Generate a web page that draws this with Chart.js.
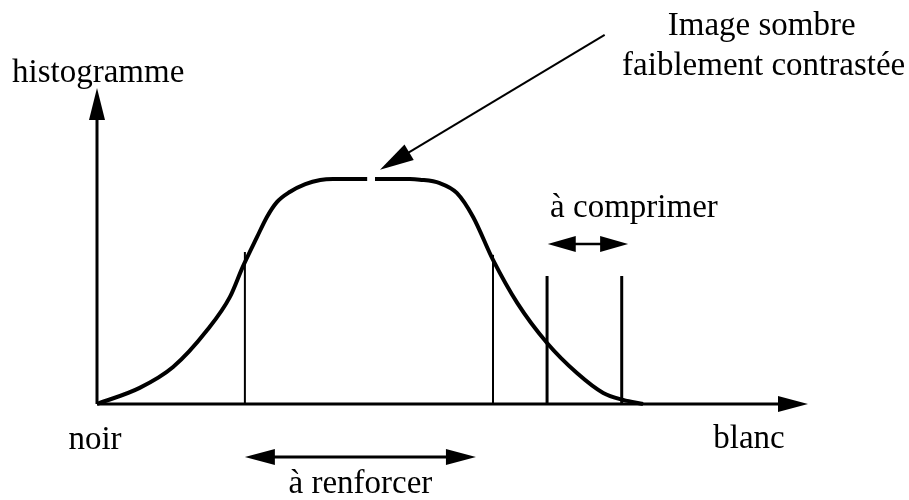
<!DOCTYPE html>
<html>
<head>
<meta charset="utf-8">
<script src="https://cdn.jsdelivr.net/npm/chart.js@4/dist/chart.umd.min.js"></script>
<style>
  html, body { margin: 0; padding: 0; background: #fff; }
  #wrap { width: 909px; height: 500px; position: relative; }
</style>
</head>
<body>
<div id="wrap"><canvas id="chart"></canvas></div>
<script>
// grey level (0 = noir, 100 = axis end) vs histogram height (0..100)
const curveX = [0, 6.0, 10.7, 15.5, 18.7, 20.5, 22.5, 23.9, 25.3, 27.1, 29.3, 31.4, 33.2, 38.0, 38.5, 39.1, 44.0, 45.4, 48.2, 50.6, 52.9, 55.7, 59.1, 63.3, 67.5, 71.2, 74.0, 76.8];
const curveY = [0, 5.1, 11.7, 23.4, 33.9, 43.4, 52.8, 59.2, 63.9, 67.1, 69.6, 70.9, 71.2, 71.2, null, 71.2, 71.2, 71.0, 69.9, 66.8, 59.2, 45.6, 32.0, 19.3, 9.8, 3.5, 1.3, 0];

// vertical threshold marks
const markX = [20.8, 55.7, 63.3, 73.8];
const markTop = [48.1, 47.2, 40.5, 40.5];

// axis labels
const axisLabels = ["histogramme", "noir", "blanc"];
// range arrows: [x from, x to, y]
const reinforceRange = [20.8, 53.3, -16.8];
const compressRange = [63.4, 74.7, 50.6];
// pointer arrow: [x from, y from, x to, y to]
const pointer = [71.4, 116.8, 39.8, 74.1];
const notes = ["Image sombre", "faiblement contrastée", "à comprimer", "à renforcer"];

const curve = curveX.map((x, i) => ({ x: x, y: curveY[i] }));
const markSets = markX.map((x, i) => ({
  data: [{ x: x, y: 0 }, { x: x, y: markTop[i] }],
  borderColor: "#000",
  borderWidth: i < 2 ? 2 : 3,
  pointRadius: 0,
  clip: false
}));

function arrowHead(ctx, x1, y1, x2, y2, len, half) {
  const a = Math.atan2(y2 - y1, x2 - x1);
  ctx.beginPath();
  ctx.moveTo(x2, y2);
  ctx.lineTo(x2 - len * Math.cos(a) + half * Math.sin(a), y2 - len * Math.sin(a) - half * Math.cos(a));
  ctx.lineTo(x2 - len * Math.cos(a) - half * Math.sin(a), y2 - len * Math.sin(a) + half * Math.cos(a));
  ctx.closePath();
  ctx.fill();
}

function line(ctx, x1, y1, x2, y2, w) {
  ctx.lineWidth = w;
  ctx.beginPath();
  ctx.moveTo(x1, y1);
  ctx.lineTo(x2, y2);
  ctx.stroke();
}

const sketchPlugin = {
  id: "sketch",
  afterDatasetsDraw(chart) {
    const ctx = chart.ctx;
    const sx = chart.scales.x, sy = chart.scales.y;
    const px = v => sx.getPixelForValue(v);
    const py = v => sy.getPixelForValue(v);
    ctx.save();
    ctx.strokeStyle = "#000";
    ctx.fillStyle = "#000";

    // axes
    const x0 = px(0), y0 = py(0);
    line(ctx, x0, y0, px(100) - 20, y0, 3);
    arrowHead(ctx, x0, y0, px(100), y0, 30, 8);
    line(ctx, x0, y0, x0, py(100) + 20, 3);
    arrowHead(ctx, x0, y0, x0, py(100), 32, 8);

    // range arrows
    const rr = reinforceRange;
    line(ctx, px(rr[0]) + 20, py(rr[2]), px(rr[1]) - 20, py(rr[2]), 3);
    arrowHead(ctx, px(rr[1]), py(rr[2]), px(rr[0]), py(rr[2]), 30, 8);
    arrowHead(ctx, px(rr[0]), py(rr[2]), px(rr[1]), py(rr[2]), 30, 8);
    const cr = compressRange;
    line(ctx, px(cr[0]) + 20, py(cr[2]), px(cr[1]) - 20, py(cr[2]), 2.5);
    arrowHead(ctx, px(cr[1]), py(cr[2]), px(cr[0]), py(cr[2]), 28, 8);
    arrowHead(ctx, px(cr[0]), py(cr[2]), px(cr[1]), py(cr[2]), 28, 8);

    // pointer
    const p = pointer;
    const tx = px(p[2]), ty = py(p[3]), fx = px(p[0]), fy = py(p[1]);
    const a = Math.atan2(ty - fy, tx - fx);
    line(ctx, fx, fy, tx - 25 * Math.cos(a), ty - 25 * Math.sin(a), 2);
    arrowHead(ctx, fx, fy, tx, ty, 34, 9);

    // texts
    ctx.font = "33px 'Liberation Serif'";
    ctx.textBaseline = "alphabetic";
    ctx.textAlign = "left";
    ctx.fillText(axisLabels[0], 12, py(100) - 6);
    ctx.textAlign = "center";
    ctx.fillText(axisLabels[1], x0 - 2, y0 + 45);
    ctx.fillText(axisLabels[2], px(100) - 59, y0 + 44);
    ctx.fillText(notes[0], fx + 157, fy);
    ctx.fillText(notes[1], fx + 159, fy + 40);
    ctx.fillText(notes[2], (px(cr[0]) + px(cr[1])) / 2 + 46, py(cr[2]) - 27);
    ctx.fillText(notes[3], (px(rr[0]) + px(rr[1])) / 2, py(rr[2]) + 36);
    ctx.restore();
  }
};

new Chart(document.getElementById("chart"), {
  type: "line",
  data: {
    datasets: [
      {
        data: curve,
        borderColor: "#000",
        borderWidth: 4,
        pointRadius: 0,
        cubicInterpolationMode: "monotone",
        spanGaps: false,
        clip: false
      }
    ].concat(markSets)
  },
  options: {
    responsive: true,
    maintainAspectRatio: false,
    animation: false,
    layout: { padding: { left: 97, right: 101, top: 88, bottom: 96 } },
    plugins: { legend: { display: false }, tooltip: { enabled: false } },
    scales: {
      x: { type: "linear", min: 0, max: 100, display: false },
      y: { type: "linear", min: 0, max: 100, display: false }
    }
  },
  plugins: [sketchPlugin]
});
</script>
</body>
</html>
